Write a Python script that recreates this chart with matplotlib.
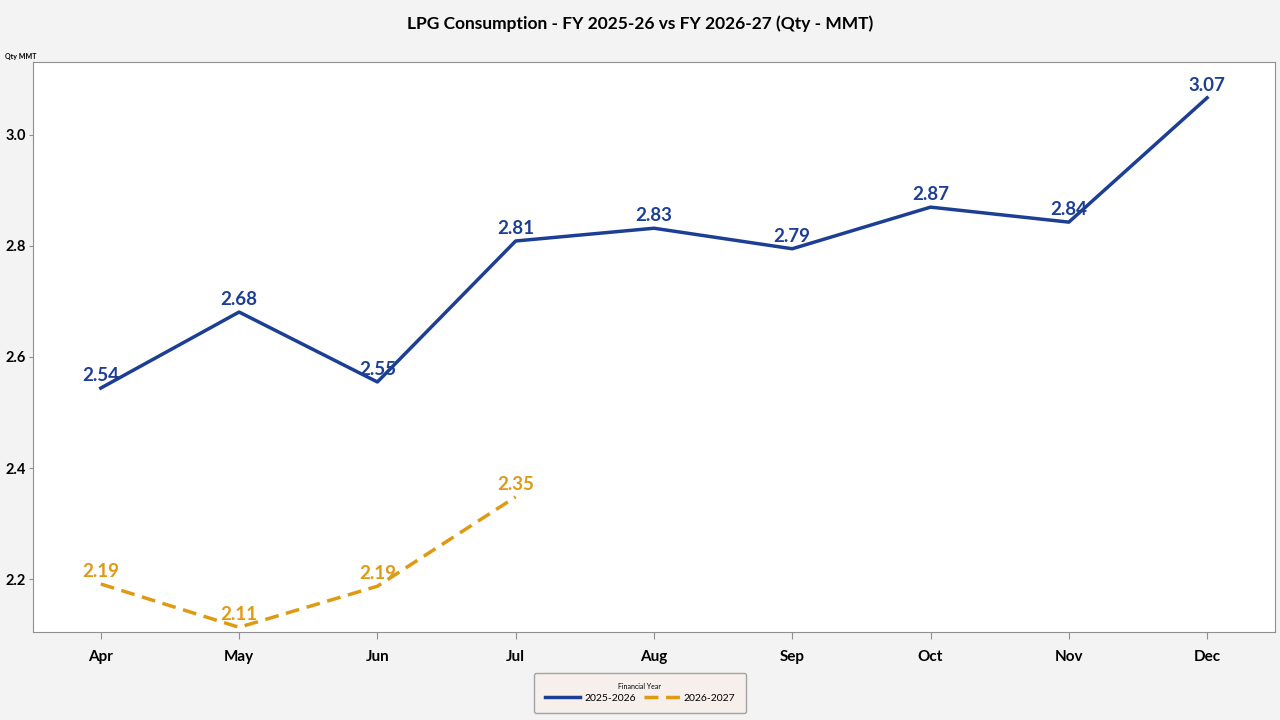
import matplotlib.pyplot as plt

MONTHS = ["Apr", "May", "Jun", "Jul", "Aug", "Sep", "Oct", "Nov", "Dec"]
FY_2025_26 = [2.544, 2.681, 2.555, 2.809, 2.832, 2.795, 2.870, 2.843, 3.067]
FY_2026_27 = [2.191, 2.113, 2.187, 2.348]
LABELS_2025_26 = ["2.54", "2.68", "2.55", "2.81", "2.83", "2.79", "2.87", "2.84", "3.07"]
LABELS_2026_27 = ["2.19", "2.11", "2.19", "2.35"]

BLUE = "#1c3f94"
ORANGE = "#de9a12"

plt.rcParams['font.family'] = ['Lato', 'DejaVu Sans']

fig = plt.figure(figsize=(12.8, 7.2), dpi=100, facecolor="#f3f3f3")
ax = fig.add_axes([0.0258, 0.1222, 0.9702, 0.7917])
ax.set_facecolor("white")

x1 = list(range(len(FY_2025_26)))
x2 = list(range(len(FY_2026_27)))
ax.plot(x1, FY_2025_26, color=BLUE, lw=2.5, label="2025-2026")
ax.plot(x2, FY_2026_27, color=ORANGE, lw=2.5, ls=(0, (4, 2.2)), label="2026-2027")

for x, y, t in zip(x1, FY_2025_26, LABELS_2025_26):
    ax.annotate(t, (x, y), xytext=(0, 3), textcoords="offset points",
                ha="center", va="bottom", color=BLUE, fontsize=13.5, fontweight="bold")
for x, y, t in zip(x2, FY_2026_27, LABELS_2026_27):
    ax.annotate(t, (x, y), xytext=(0, 3), textcoords="offset points",
                ha="center", va="bottom", color=ORANGE, fontsize=13.5, fontweight="bold")

ax.set_xlim(-0.49, 8.49)
ax.set_ylim(2.1045, 3.1315)
ax.set_xticks(x1)
ax.set_xticklabels(MONTHS, fontsize=11, fontweight="bold")
ax.set_yticks([2.2, 2.4, 2.6, 2.8, 3.0])
ax.set_yticklabels(["2.2", "2.4", "2.6", "2.8", "3.0"], fontsize=10.5, fontweight="bold")
ax.tick_params(axis="x", color="#909090", length=5, pad=8)
ax.tick_params(axis="y", color="#909090", length=3, pad=2)
for s in ax.spines.values():
    s.set_color("#909090")

fig.text(0.5, 0.967, "LPG Consumption - FY 2025-26 vs FY 2026-27 (Qty - MMT)",
         ha="center", va="center", fontsize=12.5, fontweight="bold")
fig.text(0.004, 0.921, "Qty MMT", fontsize=5, fontweight="bold", va="center")

leg = fig.legend(loc="center", bbox_to_anchor=(0.5, 0.0375), ncol=2, fontsize=7.5,
                 title="Financial Year", title_fontsize=5, frameon=True,
                 fancybox=True, handlelength=3.4, columnspacing=0.8,
                 handletextpad=0.4, borderpad=1.0, labelspacing=0.3)
leg.get_frame().set_facecolor("#f7efe9")
leg.get_frame().set_edgecolor("#909090")

fig.savefig("out.png", dpi=100, facecolor=fig.get_facecolor())
